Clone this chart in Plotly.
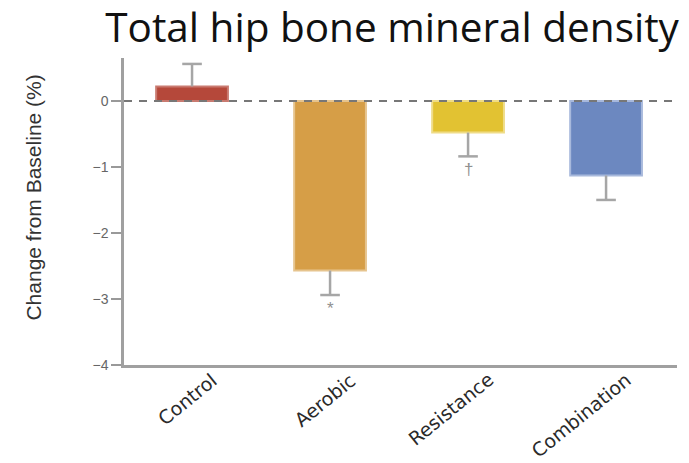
import plotly.graph_objects as go

categories = ["Control", "Aerobic", "Resistance", "Combination"]
mean_change = [0.22, -2.57, -0.48, -1.13]
err_plus = [0.34, 0.0, 0.0, 0.0]
err_minus = [0.0, 0.37, 0.36, 0.37]
sig_marks = ["", "*", "†", ""]
bar_colors = ["#b5483a", "#d69e47", "#e2c232", "#6c88c0"]
edge_colors = ["#c97a70", "#e6c48e", "#efdc87", "#a8b9dc"]
y_ticks = [0, -1, -2, -3, -4]

fig = go.Figure()
fig.add_trace(go.Bar(
    x=categories, y=mean_change, width=0.52,
    marker=dict(color=bar_colors, line=dict(color=edge_colors, width=2)),
    showlegend=False,
))

# one-sided error bars: stem from bar end to error end, cap at error end
stem_x, stem_y, cap_x, cap_y = [], [], [], []
for c, v, ep, em in zip(categories, mean_change, err_plus, err_minus):
    end = v + ep - em
    stem_x += [c, c, None]
    stem_y += [v, end, None]
    cap_x.append(c)
    cap_y.append(end)
fig.add_trace(go.Scatter(x=stem_x, y=stem_y, mode="lines",
                         line=dict(color="#a6a6a6", width=2.5), showlegend=False,
                         hoverinfo="skip"))
fig.add_trace(go.Scatter(x=cap_x, y=cap_y, mode="markers",
                         marker=dict(symbol="line-ew-open", size=14, color="#a6a6a6",
                                     line=dict(color="#a6a6a6", width=2.5)),
                         showlegend=False, hoverinfo="skip"))

for c, m, v, em in zip(categories, sig_marks, mean_change, err_minus):
    if m:
        fig.add_annotation(x=c, y=v - em, text=m, showarrow=False, yanchor="top",
                           yshift=-2, font=dict(size=17, color="#909090",
                                                family="Liberation Sans"))

# rotated category labels under the axis
for c in categories:
    fig.add_annotation(x=c, y=-4, text=c, showarrow=False, textangle=-39,
                       xanchor="right", yanchor="top", xshift=32, yshift=-1,
                       font=dict(family="DejaVu Sans", size=19, color="#2a2a2a"))

# y-axis title
fig.add_annotation(xref="paper", yref="paper", x=-0.163, y=0.545, text="Change from Baseline (%)",
                   showarrow=False, textangle=-90, xanchor="center", yanchor="middle",
                   font=dict(family="Liberation Sans", size=21, color="#333333"))

# zero reference line
fig.add_shape(type="line", xref="paper", yref="y", x0=0, x1=1, y0=0, y1=0,
              line=dict(color="#777777", width=2, dash="8px,7px"), layer="above")

fig.update_layout(
    width=681, height=455,
    margin=dict(l=116, r=12, t=50, b=98),
    paper_bgcolor="white", plot_bgcolor="white",
    title=dict(text="Total hip bone mineral density", xref="container", x=0.564,
               xanchor="center", yref="container", y=0.988, yanchor="top",
               pad=dict(t=0, b=0),
               font=dict(family="Open Sans", size=40.5, color="#111111")),
    xaxis=dict(range=[-0.493, 3.514], showline=True, linecolor="#a0a0a0", linewidth=2.5,
               showgrid=False, zeroline=False, ticks="", showticklabels=False),
    yaxis=dict(range=[-4, 0.65], tickvals=y_ticks, showline=True, linecolor="#a0a0a0",
               linewidth=2.5, ticks="outside", ticklen=10, tickcolor="#999999",
               tickwidth=1.5, showgrid=False, zeroline=False,
               tickfont=dict(family="Liberation Sans", size=14, color="#666666")),
)

fig.write_html("out.html")
